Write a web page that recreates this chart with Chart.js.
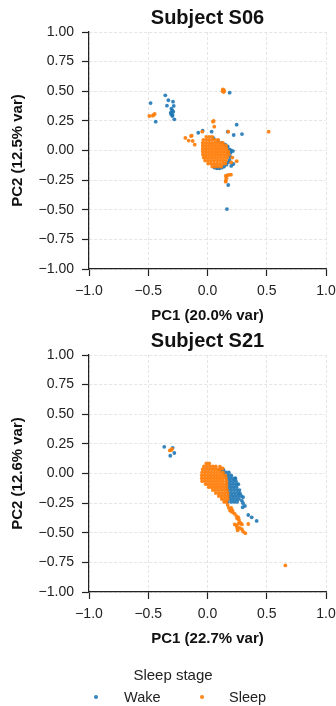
<!DOCTYPE html>
<html>
<head>
<meta charset="utf-8">
<script src="https://cdn.jsdelivr.net/npm/chart.js@4.4.0/dist/chart.umd.min.js"></script>
<style>
  html, body { margin: 0; padding: 0; background: #fff; }
  body { width: 336px; height: 706px; position: relative; overflow: hidden;
         font-family: "Liberation Sans", Arial, sans-serif; color: #222; }
  .panel { position: absolute; left: 0; width: 336px; height: 330px; }
  #legend-title { position: absolute; top: 666px; left: 0; width: 346px; text-align: center;
                  font-size: 15px; line-height: 18px; }
  .leg-item { position: absolute; top: 688px; font-size: 14.5px; line-height: 18px; }
  .leg-item i { position: absolute; top: 7px; width: 4px; height: 4px; border-radius: 50%; }
</style>
</head>
<body>
<div class="panel" style="top:0"><canvas id="c1" width="336" height="330"></canvas></div>
<div class="panel" style="top:323px"><canvas id="c2" width="336" height="330"></canvas></div>
<div id="legend-title">Sleep stage</div>
<div id="legend"></div>
<script>
// PCA scores
let seriesNames = ['Wake', 'Sleep'];
let colors = ['rgba(31,119,180,0.9)', 'rgba(255,127,14,0.95)'];
let xTicks = [-1.0, -0.5, 0.0, 0.5, 1.0];
let yTicks = [-1.0, -0.75, -0.5, -0.25, 0.0, 0.25, 0.5, 0.75, 1.0];

let s06Title = 'Subject S06';
let s06XLabel = 'PC1 (20.0% var)';
let s06YLabel = 'PC2 (12.5% var)';
let s06Wake = [
  [-0.48,0.40],[-0.437,0.243],
  [-0.356,0.466],[-0.33,0.424],[-0.291,0.412],[-0.342,0.378],[-0.305,0.353],[-0.285,0.376],
  [-0.289,0.328],[-0.308,0.308],[-0.297,0.291],[-0.28,0.263],[-0.298,0.34],[-0.295,0.30],[-0.31,0.32],
  [0.187,0.488],
  [0.246,0.218],[0.291,0.139],[0.221,0.131],[0.17,0.159],[0.035,0.159],[-0.078,0.15],[-0.041,0.167],
  [0.05,0.105],[0.09,0.08],[0.12,0.065],[0.15,0.05],[0.17,0.035],[0.185,0.01],[0.2,0.0],[0.215,-0.005],
  [0.195,-0.02],[0.19,-0.05],[0.185,-0.08],[0.175,-0.1],[0.16,-0.12],[0.14,-0.135],[0.12,-0.145],
  [0.1,-0.15],[0.08,-0.15],[0.06,-0.145],[0.218,-0.114],[0.2,-0.13],
  [0.175,-0.291],[0.164,-0.494]
];
let s06Sleep = [
  [-0.491,0.291],[-0.462,0.294],[-0.446,0.308],[-0.455,0.30],
  [0.13,0.515],[0.134,0.505],[0.138,0.51],[0.128,0.50],[0.14,0.498],[0.135,0.495],
  [0.046,0.243],[0.052,0.25],[0.057,0.201],[0.516,0.159],[0.175,0.159],[-0.044,0.159],
  [-0.187,0.106],[-0.133,0.125],[-0.159,0.084],[-0.125,0.08],[-0.108,0.049],[-0.139,0.122],
  [0.246,-0.09],[0.21,-0.06],[0.2,-0.1],
  [0.154,-0.215],[0.165,-0.21],[0.198,-0.204],[0.18,-0.205],[0.154,-0.255],[0.153,-0.263],[0.16,-0.235],
  [-0.01,0.115],[0.015,0.115],[0.04,0.115],
  [-0.035,0.09],[-0.01,0.09],[0.015,0.09],[0.04,0.09],[0.065,0.09],[0.09,0.09],
  [-0.04,0.065],[-0.015,0.065],[0.01,0.065],[0.035,0.065],[0.06,0.065],[0.085,0.065],[0.11,0.065],[0.13,0.065],
  [-0.04,0.04],[-0.015,0.04],[0.01,0.04],[0.035,0.04],[0.06,0.04],[0.085,0.04],[0.11,0.04],[0.135,0.04],[0.155,0.04],
  [-0.04,0.015],[-0.015,0.015],[0.01,0.015],[0.035,0.015],[0.06,0.015],[0.085,0.015],[0.11,0.015],[0.135,0.015],[0.16,0.015],
  [-0.04,-0.01],[-0.015,-0.01],[0.01,-0.01],[0.035,-0.01],[0.06,-0.01],[0.085,-0.01],[0.11,-0.01],[0.135,-0.01],[0.16,-0.01],[0.175,-0.01],
  [-0.038,-0.035],[-0.015,-0.035],[0.01,-0.035],[0.035,-0.035],[0.06,-0.035],[0.085,-0.035],[0.11,-0.035],[0.135,-0.035],[0.16,-0.035],[0.18,-0.035],
  [-0.032,-0.06],[-0.01,-0.06],[0.015,-0.06],[0.04,-0.06],[0.065,-0.06],[0.09,-0.06],[0.115,-0.06],[0.14,-0.06],[0.165,-0.06],
  [-0.02,-0.085],[0.005,-0.085],[0.03,-0.085],[0.055,-0.085],[0.08,-0.085],[0.105,-0.085],[0.13,-0.085],[0.155,-0.085],
  [0.005,-0.11],[0.03,-0.11],[0.055,-0.11],[0.08,-0.11],[0.105,-0.11],[0.13,-0.11],[0.15,-0.11],
  [0.04,-0.135],[0.065,-0.135],[0.09,-0.135],[0.115,-0.135]
];

let s21Title = 'Subject S21';
let s21XLabel = 'PC1 (22.7% var)';
let s21YLabel = 'PC2 (12.6% var)';
let s21Wake = [
  [-0.365,0.225],[-0.294,0.217],[-0.314,0.15],[-0.28,0.173],
  [0.11,0.03],[0.135,0.03],
  [0.13,0.01],[0.155,0.01],[0.18,0.01],
  [0.15,-0.015],[0.175,-0.015],[0.2,-0.015],
  [0.16,-0.04],[0.185,-0.04],[0.21,-0.04],[0.235,-0.04],
  [0.165,-0.065],[0.19,-0.065],[0.215,-0.065],[0.24,-0.065],
  [0.17,-0.09],[0.195,-0.09],[0.22,-0.09],[0.245,-0.09],[0.26,-0.09],
  [0.17,-0.115],[0.195,-0.115],[0.22,-0.115],[0.245,-0.115],
  [0.175,-0.14],[0.2,-0.14],[0.225,-0.14],[0.25,-0.14],[0.27,-0.14],
  [0.18,-0.165],[0.205,-0.165],[0.23,-0.165],[0.255,-0.165],
  [0.185,-0.19],[0.21,-0.19],[0.235,-0.19],[0.26,-0.19],[0.285,-0.19],
  [0.19,-0.215],[0.215,-0.215],[0.24,-0.215],[0.265,-0.215],
  [0.17,-0.24],[0.2,-0.24],[0.225,-0.24],[0.25,-0.24],
  [0.232,-0.046],[0.274,-0.167],[0.297,-0.285],[0.316,-0.274],[0.3,-0.25],[0.29,-0.23],[0.3,-0.2],
  [0.344,-0.35],[0.373,-0.37],[0.415,-0.4]
];
let s21Sleep = [
  [-0.308,0.197],[-0.30,0.207],[-0.318,0.195],
  [0.105,0.057],[0.128,0.044],
  [-0.01,0.085],[0.015,0.085],
  [-0.03,0.06],[-0.005,0.06],[0.02,0.06],[0.045,0.06],[0.07,0.06],
  [-0.04,0.035],[-0.015,0.035],[0.01,0.035],[0.035,0.035],[0.06,0.035],[0.085,0.035],[0.105,0.035],
  [-0.045,0.01],[-0.02,0.01],[0.005,0.01],[0.03,0.01],[0.055,0.01],[0.08,0.01],[0.105,0.01],[0.13,0.01],
  [-0.048,-0.015],[-0.023,-0.015],[0.002,-0.015],[0.027,-0.015],[0.052,-0.015],[0.077,-0.015],[0.102,-0.015],[0.127,-0.015],[0.15,-0.015],
  [-0.048,-0.04],[-0.023,-0.04],[0.002,-0.04],[0.027,-0.04],[0.052,-0.04],[0.077,-0.04],[0.102,-0.04],[0.127,-0.04],[0.155,-0.04],
  [-0.045,-0.065],[-0.02,-0.065],[0.005,-0.065],[0.03,-0.065],[0.055,-0.065],[0.08,-0.065],[0.105,-0.065],[0.13,-0.065],[0.16,-0.065],
  [-0.015,-0.09],[0.01,-0.09],[0.035,-0.09],[0.06,-0.09],[0.085,-0.09],[0.11,-0.09],[0.135,-0.09],[0.16,-0.09],
  [0.01,-0.115],[0.035,-0.115],[0.06,-0.115],[0.085,-0.115],[0.11,-0.115],[0.135,-0.115],[0.16,-0.115],
  [0.045,-0.14],[0.07,-0.14],[0.095,-0.14],[0.12,-0.14],[0.145,-0.14],[0.165,-0.14],
  [0.07,-0.165],[0.095,-0.165],[0.12,-0.165],[0.145,-0.165],[0.17,-0.165],
  [0.095,-0.19],[0.12,-0.19],[0.145,-0.19],[0.17,-0.19],
  [0.12,-0.215],[0.145,-0.215],[0.17,-0.215],
  [0.14,-0.24],[0.16,-0.24],
  [0.17,-0.265],[0.18,-0.29],[0.2,-0.29],[0.19,-0.31],[0.21,-0.31],[0.2,-0.32],[0.215,-0.33],[0.23,-0.34],
  [0.245,-0.36],[0.26,-0.37],[0.25,-0.38],[0.265,-0.39],[0.27,-0.41],[0.28,-0.42],[0.26,-0.425],
  [0.245,-0.44],[0.23,-0.43],[0.29,-0.43],[0.344,-0.426],[0.27,-0.46],[0.255,-0.48],[0.29,-0.47],
  [0.3,-0.49],[0.319,-0.504],[0.25,-0.46],
  [0.657,-0.776]
];

const fmt = (v, d) => Number(v).toFixed(d).replace('-', '\u2212');
const toPts = (arr) => arr.map(p => ({x: p[0], y: p[1]}));

function makeChart(id, title, xLabel, yLabel, wake, sleep) {
  const axisBase = {
    type: 'linear', min: -1, max: 1,
    border: { display: true, color: '#222', width: 1.2, dash: [3, 2] },
    grid: { color: '#dedede', lineWidth: 0.8, tickLength: 7, tickColor: '#222', tickWidth: 1.2 }
  };
  return new Chart(document.getElementById(id), {
    type: 'scatter',
    data: {
      // sleep first so it draws on top, like the reference
      datasets: [
        { label: seriesNames[1], data: toPts(sleep), backgroundColor: colors[1] },
        { label: seriesNames[0], data: toPts(wake), backgroundColor: colors[0] }
      ]
    },
    options: {
      responsive: false,
      animation: false,
      events: [],
      layout: { padding: { right: 0 } },
      elements: { point: { radius: 1.9, borderWidth: 0 } },
      plugins: {
        legend: { display: false },
        tooltip: { enabled: false },
        title: {
          display: true, text: title, fullSize: false, color: '#111',
          font: { family: 'Liberation Sans', size: 20, weight: 'bold' },
          padding: { top: 6, bottom: 2 }
        }
      },
      scales: {
        x: Object.assign({}, axisBase, {
          afterFit: (s) => { s.height = 61; s.paddingRight = 10; s.paddingLeft = 0; },
          afterBuildTicks: (s) => { s.ticks = xTicks.map(v => ({value: v})); },
          ticks: { color: '#222', padding: 7, font: { family: 'Liberation Sans', size: 14 },
                   callback: (v) => fmt(v, 1) },
          title: { display: true, text: xLabel, color: '#111', padding: { top: 2, bottom: 5 },
                   font: { family: 'Liberation Sans', size: 15, weight: 'bold' } }
        }),
        y: Object.assign({}, axisBase, {
          afterFit: (s) => { s.width = 89; },
          afterBuildTicks: (s) => { s.ticks = yTicks.map(v => ({value: v})); },
          ticks: { color: '#222', padding: 8, font: { family: 'Liberation Sans', size: 14 },
                   callback: (v) => fmt(v, 2) },
          title: { display: true, text: yLabel, color: '#111', padding: { top: 9, bottom: 2 },
                   font: { family: 'Liberation Sans', size: 15, weight: 'bold' } }
        })
      }
    }
  });
}

makeChart('c1', s06Title, s06XLabel, s06YLabel, s06Wake, s06Sleep);
makeChart('c2', s21Title, s21XLabel, s21YLabel, s21Wake, s21Sleep);

// legend below both panels, built from the series names/colors
let legendPos = [{dot: 94, text: 124}, {dot: 200, text: 229}];
let legendEl = document.getElementById('legend');
seriesNames.forEach((name, i) => {
  let item = document.createElement('div');
  item.className = 'leg-item';
  item.style.left = legendPos[i].text + 'px';
  item.innerHTML = '<i style="background:' + colors[i] + ';left:' + (legendPos[i].dot - legendPos[i].text) + 'px"></i>' + name;
  legendEl.appendChild(item);
});
</script>
</body>
</html>
